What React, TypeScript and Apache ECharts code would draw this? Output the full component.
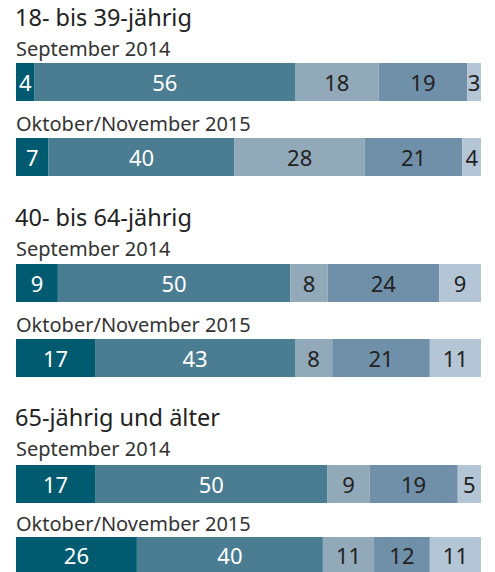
import React, { useEffect, useRef } from "react";
import * as echarts from "echarts";

const groupTitles = ["18- bis 39-jährig", "40- bis 64-jährig", "65-jährig und älter"];
const periodLabels = ["September 2014", "Oktober/November 2015"];

const young2014 = [4, 56, 18, 19, 3];
const young2015 = [7, 40, 28, 21, 4];
const middle2014 = [9, 50, 8, 24, 9];
const middle2015 = [17, 43, 8, 21, 11];
const old2014 = [17, 50, 9, 19, 5];
const old2015 = [26, 40, 11, 12, 11];

const rows = [young2014, young2015, middle2014, middle2015, old2014, old2015];

const segmentColors = ["#005b70", "#4a7d91", "#91a9b8", "#6f90a8", "#b4c6d6"];
const labelColors = ["#ffffff", "#ffffff", "#222222", "#222222", "#222222"];

const barTops = [63, 138, 264, 339, 465, 537];
const barHeight = 38;
const titleY = [19, 219, 419];
const periodY = [50, 125, 250, 326, 450, 525];
const FONT = "Noto Sans";

export default function App() {
  const ref = useRef<HTMLDivElement>(null);
  useEffect(() => {
    if (!ref.current) return;
    const chart = echarts.init(ref.current, null, { renderer: "svg" });
    const grid: any[] = [];
    const xAxis: any[] = [];
    const yAxis: any[] = [];
    const series: any[] = [];
    rows.forEach((row, i) => {
      grid.push({ left: 16, width: 465, top: barTops[i], height: barHeight });
      xAxis.push({ gridIndex: i, type: "value", min: 0, max: 100, show: false });
      yAxis.push({ gridIndex: i, type: "category", data: [periodLabels[i % 2]], show: false });
      row.forEach((v, j) => {
        series.push({
          type: "bar",
          xAxisIndex: i,
          yAxisIndex: i,
          stack: "s" + i,
          barWidth: barHeight,
          data: [v],
          itemStyle: { color: segmentColors[j] },
          label: {
            show: true,
            position: "inside",
            color: labelColors[j],
            fontSize: 22,
            fontFamily: FONT,
          },
        });
      });
    });
    const graphic: any[] = [];
    groupTitles.forEach((t, k) => {
      graphic.push({
        type: "text",
        left: 15,
        top: titleY[k] - 14,
        style: { text: t, fontSize: 23.5, fontFamily: FONT, fill: "#222222" },
      });
    });
    periodY.forEach((y, i) => {
      graphic.push({
        type: "text",
        left: 16,
        top: y - 12,
        style: { text: periodLabels[i % 2], fontSize: 20, fontFamily: FONT, fill: "#333333" },
      });
    });
    chart.setOption({
      animation: false,
      grid,
      xAxis,
      yAxis,
      series,
      graphic,
    });
    return () => chart.dispose();
  }, []);
  return (
    <div
      ref={ref}
      style={{ position: "fixed", left: 0, top: 0, width: 495, height: 572, background: "#fff" }}
    />
  );
}
